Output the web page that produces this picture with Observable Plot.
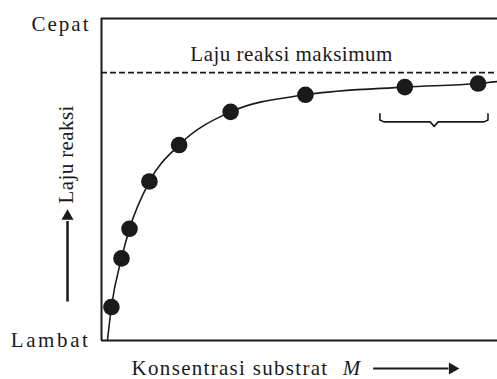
<!DOCTYPE html>
<html><head><meta charset="utf-8">
<script src="https://cdn.jsdelivr.net/npm/d3@7"></script>
<script src="https://cdn.jsdelivr.net/npm/@observablehq/plot@0.6"></script>
<style>body{margin:0;background:#fff} svg{display:block}</style>
</head><body><div id="chart"></div>
<script>
// Data (x: substrate concentration, y: reaction rate, both 0–100 relative)
const substrate = [2.5, 5.05, 7.07, 12.1, 19.6, 32.6, 51.5, 76.6, 95.1];
const rate = [10.4, 25.5, 34.7, 49.4, 60.7, 71.0, 76.3, 78.7, 79.8];
const curveSubstrate = [1.5, ...substrate, 100];
const curveRate = [0, ...rate, 80.4];
const maxRate = [83.2];
const yTickValues = [100, 0];
const yTickLabels = ["Cepat", "Lambat"];
const maxLabel = ["Laju reaksi maksimum"];
const yLabel = ["Laju reaksi"];
const xLabel = ["Konsentrasi substrat"];
const xLabelVar = ["M"];
const braceX = [70.3, 84.0, 97.6];   // left end, tip, right end
const braceY = [70.4, 67.9, 66.5];   // ends, shoulder, tip
const yArrow = [12.1, 38.6];
const xArrow = [68.6, 88.6];

const ink = "#1a1a1a";
const points = substrate.map((x, i) => ({x, y: rate[i]}));
const curve = curveSubstrate.map((x, i) => ({x, y: curveRate[i]}));
const [bx0, bxm, bx1] = braceX, [bTop, bMid, bTip] = braceY;
const bd = 1.0;
const bracePts = [
  [bx0, bTop], [bx0, bMid + 0.6], [bx0 + bd, bMid], [bxm - bd, bMid], [bxm, bTip],
  [bxm + bd, bMid], [bx1 - bd, bMid], [bx1, bMid + 0.6], [bx1, bTop]
].map(([x, y]) => ({x, y}));

const font = "'Liberation Serif', 'Times New Roman', serif";
const chart = Plot.plot({
  width: 497, height: 379,
  marginLeft: 101, marginRight: 0, marginTop: 18, marginBottom: 39,
  x: {domain: [0, 100], axis: null},
  y: {domain: [0, 100], axis: null},
  style: {fontFamily: font, fontSize: "21px", color: ink, background: "#fff"},
  marks: [
    Plot.ruleY([0, 100], {stroke: ink, strokeWidth: 2}),
    Plot.ruleX([0], {stroke: ink, strokeWidth: 2}),
    Plot.ruleY(maxRate, {stroke: ink, strokeWidth: 1.6, strokeDasharray: "6,3"}),
    Plot.text(maxLabel, {x: 48, y: maxRate[0], text: d => d, dy: -12, lineAnchor: "bottom", textAnchor: "middle", fill: ink}),
    Plot.line(curve, {x: "x", y: "y", curve: "monotone-x", stroke: ink, strokeWidth: 1.6}),
    Plot.dot(points, {x: "x", y: "y", r: 8.3, fill: ink, stroke: "none"}),
    Plot.line(bracePts, {x: "x", y: "y", stroke: ink, strokeWidth: 1.6, curve: "linear"}),
    Plot.text([yTickLabels[0]], {x: 0, y: yTickValues[0], text: d => d, dx: -11, dy: 12, textAnchor: "end", lineAnchor: "bottom", fill: ink}),
    Plot.text([yTickLabels[1]], {x: 0, y: yTickValues[1], text: d => d, dx: -11, dy: 6, textAnchor: "end", lineAnchor: "bottom", fill: ink}),
    Plot.text(yLabel, {x: 0, y: 57.8, text: d => d, dx: -29, rotate: -90, textAnchor: "middle", lineAnchor: "bottom", fill: ink}),
    Plot.link([0], {x1: 0, x2: 0, y1: yArrow[0], y2: yArrow[1] - 1.5, dx: -34, stroke: ink, strokeWidth: 2.5}),
    Plot.dot([0], {x: 0, y: yArrow[1], dx: -34, symbol: "triangle", r: 4.5, rotate: 0, fill: ink, stroke: "none"}),
    Plot.text(xLabel, {x: 7.6, y: 0, text: d => d, dy: 34, textAnchor: "start", lineAnchor: "bottom", fill: ink}),
    Plot.text(xLabelVar, {x: 60.9, y: 0, text: d => d, dy: 34, textAnchor: "start", lineAnchor: "bottom", fill: ink, fontStyle: "italic"}),
    Plot.link([0], {x1: xArrow[0], x2: xArrow[1] - 1, y1: 0, y2: 0, dy: 28, stroke: ink, strokeWidth: 2}),
    Plot.dot([0], {x: xArrow[1], y: 0, dy: 28, symbol: "triangle", r: 4.5, rotate: 90, fill: ink, stroke: "none"})
  ]
});
// letter spacing per label, to match the reference widths
const spacing = {"Cepat": "2px", "Lambat": "2.6px", "Laju reaksi maksimum": "0.5px", "Konsentrasi substrat": "1.3px", "Laju reaksi": "0.4px"};
chart.querySelectorAll("text").forEach(t => {
  const s = spacing[t.textContent];
  if (s) t.style.letterSpacing = s;
});
document.getElementById("chart").append(chart);
</script>
</body></html>
